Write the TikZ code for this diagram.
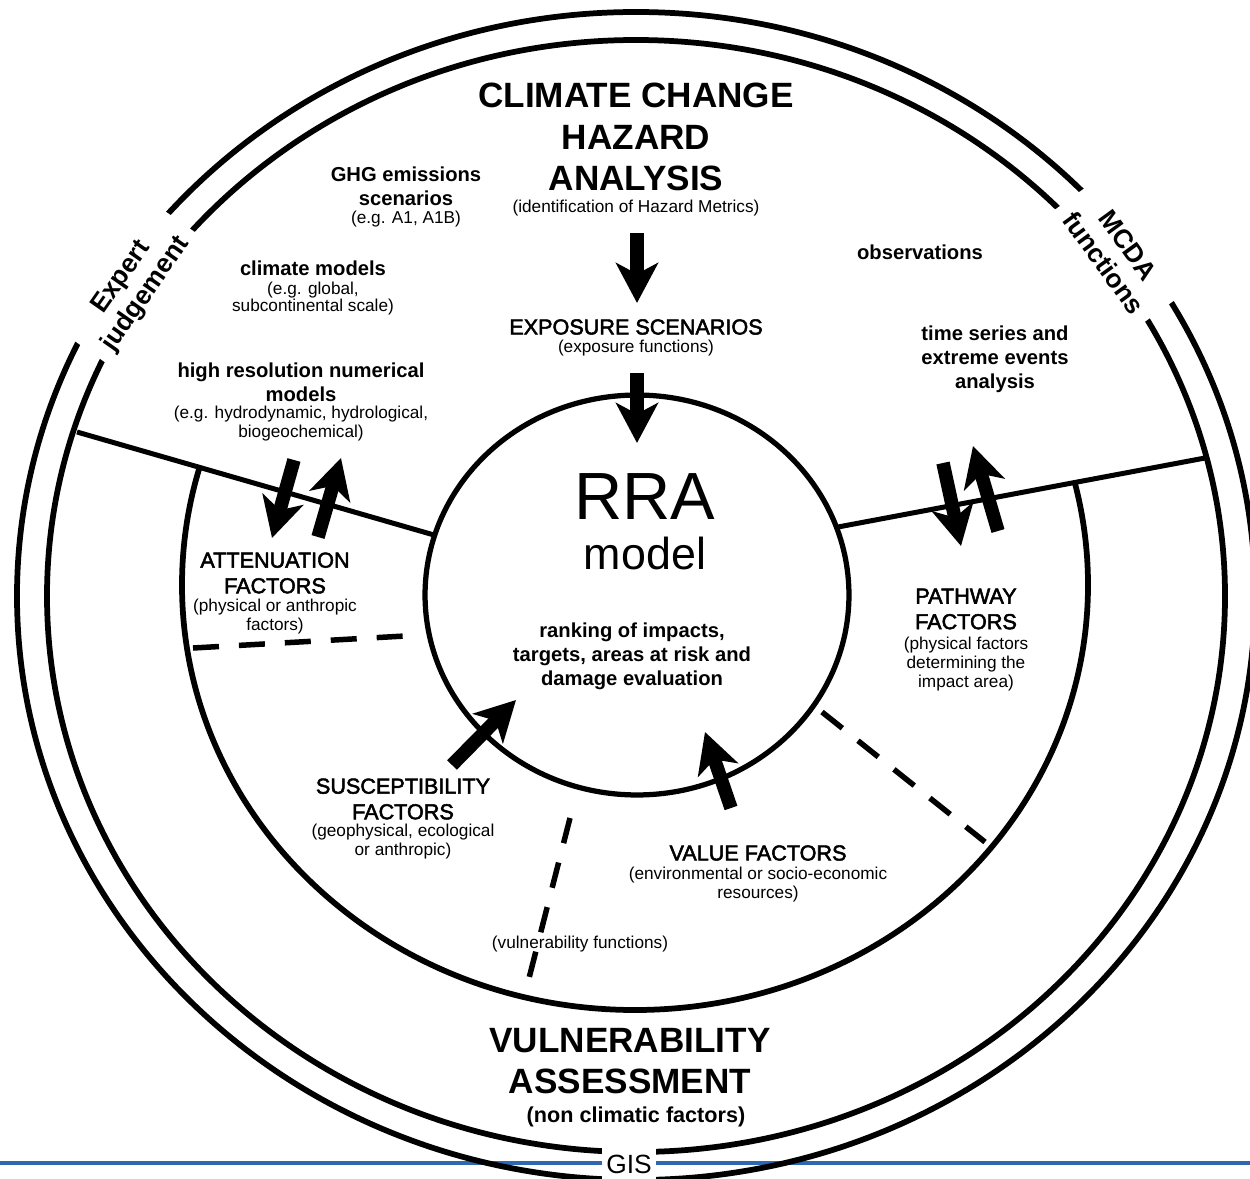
\documentclass[tikz,border=0pt]{standalone}
\usepackage{fontspec}
\setmainfont{Liberation Sans}
\newfontfamily\medf[FakeBold=2.4]{Liberation Sans}
\usetikzlibrary{arrows.meta,shapes.geometric}
\definecolor{slideblue}{RGB}{46,104,176}
\tikzset{
  ring/.style={line width=0.115cm},
  divider/.style={line width=0.1cm},
  dashdiv/.style={line width=0.11cm, dash pattern=on 0.52cm off 0.4cm},
  fatarrow/.style={line width=0.27cm, -{Stealth[length=0.8cm, width=0.84cm, inset=0.22cm]}},
  head/.style={font=\fontsize{20}{23.6}\selectfont\bfseries, align=center, inner sep=0pt},
  mid/.style={font=\fontsize{12.3}{14.6}\selectfont\medf, align=center, inner sep=0pt},
  sub/.style={font=\fontsize{9.8}{10.8}\selectfont, align=center, inner sep=0pt},
  bold/.style={font=\fontsize{11.5}{13.7}\selectfont\bfseries, align=center, inner sep=0pt},
  tag/.style={fill=white, font=\fontsize{15}{17}\selectfont\bfseries, align=center, inner xsep=0.25cm, inner ysep=0.06cm},
}
\begin{document}
\begin{tikzpicture}[x=0.02cm, y=-0.02cm]
\useasboundingbox (0,0) rectangle (1250,1179);
% slide rule
\coordinate (bl) at (0,1163); \coordinate (br) at (1250,1163);
\draw[slideblue, line width=0.08cm] (bl) -- (br);
% outer band
\coordinate (ctr) at (636,596);
\draw[ring] (ctr) ellipse [x radius=619, y radius=584];
\draw[ring] (ctr) ellipse [x radius=589, y radius=556];
% middle ring (below dividers)
\coordinate (mctr) at (635,585);
\begin{scope}
  \clip (-10,407) -- (434,535) -- (838,527) -- (1260,448) -- (1260,1200) -- (-10,1200) -- cycle;
  \draw[ring] (mctr) ellipse [x radius=453, y radius=425];
\end{scope}
% RRA circle
\node[draw, ellipse, line width=0.105cm, minimum width=8.48cm, minimum height=8cm, inner sep=0pt] (rra) at (637,595) {};
% dividers
\coordinate (dl1) at (77,432); \coordinate (dl2) at (434,535);
\coordinate (dr1) at (838,527); \coordinate (dr2) at (1205,458);
\draw[divider] (dl1) -- (dl2);
\draw[divider] (dr1) -- (dr2);
% dashed dividers
\coordinate (da1) at (193,648); \coordinate (da2) at (405,636);
\coordinate (db1) at (822,712); \coordinate (db2) at (985,842);
\coordinate (dc1) at (570,818); \coordinate (dc2) at (527,986);
\draw[dashdiv] (da1) -- (da2);
\draw[dashdiv] (db1) -- (db2);
\draw[dashdiv] (dc1) -- (dc2);
% band labels
\node[tag, rotate=55] (expert) at (134,286) {Expert\\judgement};
\node[tag, rotate=-54] (mcda) at (1116,254) {MCDA\\functions};
\node[fill=white, inner sep=0pt, minimum width=1.08cm, minimum height=0.9cm, font=\fontsize{15}{17}\selectfont] (gis) at (629,1164) {GIS};
% texts
\node[head] (title) at (636,137) {CLIMATE CHANGE\\HAZARD\\ANALYSIS};
\node[sub] (titlesub) at (636,208) {(identification of Hazard Metrics)};
\node[mid] (expo) at (636,327) {EXPOSURE SCENARIOS};
\node[sub] (exposub) at (636,348) {(exposure functions)};
\node[bold] (ghg) at (406,186) {GHG emissions\\scenarios};
\node[sub] (ghgsub) at (406,219) {(e.g. A1, A1B)};
\node[bold] (clim) at (313,268) {climate models};
\node[sub, font=\fontsize{9.8}{9.7}\selectfont] (climsub) at (313,299) {(e.g. global,\\subcontinental scale)};
\node[bold] (hires) at (301,382) {high resolution numerical\\models};
\node[sub] (hiressub) at (301,424) {(e.g. hydrodynamic, hydrological,\\biogeochemical)};
\node[bold] (obs) at (920,252) {observations};
\node[bold] (ts) at (995,359) {time series and\\extreme events\\analysis};
\node[font=\fontsize{38}{40}\selectfont, inner sep=0pt] (rratxt) at (645,497) {RRA};
\node[font=\fontsize{25.5}{28}\selectfont, inner sep=0pt] (modeltxt) at (645,553) {model};
\node[bold] (rank) at (632,656) {ranking of impacts,\\targets, areas at risk and\\damage evaluation};
\node[mid] (att) at (275,573) {ATTENUATION\\FACTORS};
\node[sub] (attsub) at (275,617) {(physical or anthropic\\factors)};
\node[mid] (path) at (966,609) {PATHWAY\\FACTORS};
\node[sub] (pathsub) at (966,664) {(physical factors\\determining the\\impact area)};
\node[mid] (sus) at (403,799) {SUSCEPTIBILITY\\FACTORS};
\node[sub] (sussub) at (403,842) {(geophysical, ecological\\or anthropic)};
\node[mid] (val) at (758,853) {VALUE FACTORS};
\node[sub] (valsub) at (758,885) {(environmental or socio-economic\\resources)};
\node[sub] (vf) at (580,944) {(vulnerability functions)};
\node[head] (vuln) at (630,1061) {VULNERABILITY\\ASSESSMENT};
\node[bold, font=\fontsize{12.3}{14}\selectfont\bfseries] (vulnsub) at (636,1117) {(non climatic factors)};
% arrows
\coordinate (a1s) at (637,233); \coordinate (a1e) at (637,303);
\coordinate (a2s) at (637,373); \coordinate (a2e) at (637,443);
\coordinate (a3s) at (294,460); \coordinate (a3e) at (272,538);
\coordinate (a4s) at (318,537); \coordinate (a4e) at (341,458);
\coordinate (a5s) at (943,463); \coordinate (a5e) at (961,546);
\coordinate (a6s) at (998,531); \coordinate (a6e) at (973,446);
\coordinate (a7s) at (452,765); \coordinate (a7e) at (516,700);
\coordinate (a8s) at (731,808); \coordinate (a8e) at (705,732);
\draw[fatarrow] (a1s) -- (a1e);
\draw[fatarrow] (a2s) -- (a2e);
\draw[fatarrow] (a3s) -- (a3e);
\draw[fatarrow] (a4s) -- (a4e);
\draw[fatarrow] (a5s) -- (a5e);
\draw[fatarrow] (a6s) -- (a6e);
\draw[fatarrow] (a7s) -- (a7e);
\draw[fatarrow] (a8s) -- (a8e);
\end{tikzpicture}
\end{document}
